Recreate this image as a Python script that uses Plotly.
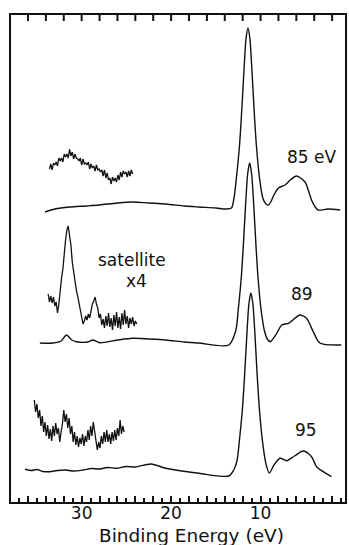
import plotly.graph_objects as go

# ---------------- data (binding energy in eV, intensity in arbitrary units) ----------------
# 85 eV spectrum (intensity above its own baseline)
e85 = [34.1, 33.0, 31.3, 29.5, 28.0, 26.0, 24.3, 22.5, 20.6, 18.5, 16.9, 15.0, 13.9, 13.26,
       12.97, 12.69, 12.35, 12.10, 11.82, 11.62, 11.41, 11.20, 11.00, 10.72, 10.47, 10.13,
       9.75, 9.4, 9.11, 8.8, 8.56, 8.0, 7.26, 6.67, 5.97, 5.03, 4.67, 4.30, 3.89, 3.56, 2.44, 1.1]
i85 = [-2, 1, 3, 4, 5, 7, 8, 7, 6, 4, 3, 2, 1, 2,
       12, 33, 65, 100, 145, 172, 182, 172, 145, 100, 65, 33,
       12, 6, 5, 9, 14, 22, 25, 30, 34, 28, 20, 10, 3, 0, 1, 0]

# 89 eV spectrum
e89 = [34.67, 33.2, 32.3, 31.7, 31.1, 30.6, 29.3, 28.74, 28.0, 26.0, 24.3, 22.5, 20.6, 18.5, 16.9, 13.56,
       12.78, 12.50, 12.16, 11.91, 11.63, 11.43, 11.22, 11.01, 10.81, 10.53, 10.28, 9.94,
       9.56, 9.25, 8.92, 8.19, 7.63, 6.89, 5.59, 4.86, 4.11, 3.37, 0.97]
i89 = [0, 0, 2, 8, 3, 1.3, 1, 3, 0.3, 3, 4.7, 4, 3, 1, 0, -2,
       12, 33, 65, 100, 145, 170, 180, 170, 145, 100, 65, 33,
       12, 4, 1.3, 9.7, 18, 19.7, 28, 24.7, 11.3, 0, -2]

# 95 eV spectrum
e95 = [36.33, 35.6, 35.0, 34.3, 33.56, 32.7, 31.8, 30.9, 29.86, 28.9, 28.0, 27.1, 26.14, 25.0, 24.0,
       22.26, 20.59, 18.8, 16.89, 13.56, 13.0,
       12.64, 12.36, 12.02, 11.77, 11.49, 11.29, 11.08, 10.87, 10.67, 10.39, 10.14, 9.80,
       9.42, 9.03, 8.5, 7.81, 7.08, 6.2, 5.22, 4.30, 3.74, 3.0, 2.08]
i95 = [3.7, 2.5, 3.5, 1.5, 1.3, 2.5, 3, 2, 3, 4.5, 4, 5.5, 4.7, 6.5, 6,
       9, 4.7, 2, -0.3, -3, 3,
       12, 33, 65, 100, 145, 170, 180, 170, 145, 100, 65, 33,
       10, 0, 8, 14.7, 12.3, 17, 22, 16.3, 6.3, 1.3, -3.7]

# baselines of the stacked spectra
offsets = {"85": 292, "89": 159, "95": 29}

# satellite regions, magnified x4 (absolute vertical position in chart units)
sat85_e = [33.6, 33.45, 33.3, 33.15, 33.0, 32.85, 32.7, 32.55, 32.4, 32.25, 32.1, 31.95, 31.8, 31.65,
           31.5, 31.35, 31.2, 31.05, 30.9, 30.75, 30.6, 30.45, 30.3, 30.15, 30.0, 29.85, 29.7, 29.55,
           29.4, 29.25, 29.1, 28.95, 28.8, 28.65, 28.5, 28.35, 28.2, 28.05, 27.9, 27.75, 27.6, 27.45,
           27.3, 27.15, 27.0, 26.85, 26.7, 26.55, 26.4, 26.25, 26.1, 25.95, 25.8, 25.65, 25.5, 25.35,
           25.2, 25.05, 24.9, 24.75, 24.6, 24.45, 24.3]
sat85_i = [333, 338, 332, 339, 337, 340, 336, 344, 341, 344, 340, 348, 345, 348,
           344, 353, 346, 350, 343, 348, 344, 343, 341, 344, 337, 343, 338, 339,
           337, 340, 333, 338, 334, 336, 331, 337, 332, 333, 330, 332, 326, 332,
           324, 329, 322, 324, 318, 325, 321, 324, 320, 327, 322, 330, 325, 331,
           328, 330, 325, 331, 326, 332, 328]

sat89_e = [33.75, 33.6, 33.45, 33.3, 33.15, 33.0, 32.85, 32.7, 32.55, 32.4, 32.25, 32.1, 31.95, 31.8,
           31.65, 31.5, 31.35, 31.2, 31.05, 30.9, 30.75, 30.6, 30.45, 30.3, 30.15, 30.0, 29.85, 29.7,
           29.55, 29.4, 29.25, 29.1, 28.95, 28.8, 28.65, 28.5, 28.35, 28.2, 28.05, 27.9, 27.75, 27.6,
           27.45, 27.3, 27.15, 27.0, 26.85, 26.7, 26.55, 26.4, 26.25, 26.1, 25.95, 25.8, 25.65, 25.5,
           25.35, 25.2, 25.05, 24.9, 24.75, 24.6, 24.45, 24.3, 24.15, 24.0, 23.85]
sat89_i = [208, 200, 206, 199, 205, 196, 200, 189, 198, 216, 224, 233, 250, 262,
           272, 276, 266, 257, 240, 229, 220, 212, 206, 199, 192, 185, 178, 181,
           186, 182, 188, 184, 193, 198, 201, 205, 198, 194, 184, 188, 177, 183,
           174, 186, 176, 189, 175, 184, 172, 187, 176, 190, 174, 185, 173, 189,
           177, 192, 178, 186, 174, 184, 178, 185, 176, 181, 178]

sat95_e = [35.3, 35.15, 35.0, 34.85, 34.7, 34.55, 34.4, 34.25, 34.1, 33.95, 33.8, 33.65, 33.5, 33.35,
           33.2, 33.05, 32.9, 32.75, 32.6, 32.45, 32.3, 32.15, 32.0, 31.85, 31.7, 31.55, 31.4, 31.25,
           31.1, 30.95, 30.8, 30.65, 30.5, 30.35, 30.2, 30.05, 29.9, 29.75, 29.6, 29.45, 29.3, 29.15,
           29.0, 28.85, 28.7, 28.55, 28.4, 28.25, 28.1, 27.95, 27.8, 27.65, 27.5, 27.35, 27.2, 27.05,
           26.9, 26.75, 26.6, 26.45, 26.3, 26.15, 26.0, 25.85, 25.7, 25.55, 25.4, 25.25]
sat95_i = [102, 90, 98, 84, 92, 76, 86, 70, 80, 66, 77, 63, 73, 61,
           76, 66, 79, 68, 74, 60, 70, 78, 92, 80, 88, 74, 84, 68,
           76, 60, 70, 57, 66, 55, 64, 58, 68, 56, 66, 60, 72, 62,
           76, 66, 80, 70, 62, 52, 60, 54, 66, 58, 70, 60, 72, 60,
           68, 58, 70, 61, 72, 62, 74, 66, 82, 68, 76, 70]

# labels
spec_labels = ["85 eV", "89", "95"]
spec_label_pos = [(4.33, 345), (5.33, 208), (4.89, 72)]
sat_label = ["satellite", "x4"]
sat_label_pos = [(24.33, 242), (23.89, 221)]
x_tick_vals = [30, 20, 10]
x_tick_text = ["30", "20", "10"]
x_title = "Binding Energy (eV)"
major_ticks = [2, 4, 6, 8, 10, 12, 14, 16, 18, 20, 22, 24, 26, 28, 30, 32, 34, 36]
minor_ticks = [1, 3, 5, 7, 9, 11, 13, 15, 17, 19, 21, 23, 25, 27, 29, 31, 33, 35, 37]

# ---------------- figure ----------------
INK = "#111111"
FONT = "DejaVu Sans"
XR = [37.9, 0.56]
YR = [0, 487]
TOP_TICK = 6   # length of the top-border tick marks, in y units (1 unit = 1 px here)

fig = go.Figure()

for e, i, key in [(e85, i85, "85"), (e89, i89, "89"), (e95, i95, "95")]:
    fig.add_trace(go.Scatter(
        x=e, y=[v + offsets[key] for v in i], mode="lines",
        line=dict(color=INK, width=1.4, shape="spline", smoothing=0.8),
        showlegend=False, hoverinfo="skip"))

for e, i in [(sat85_e, sat85_i), (sat89_e, sat89_i), (sat95_e, sat95_i)]:
    fig.add_trace(go.Scatter(
        x=e, y=i, mode="lines", line=dict(color=INK, width=1.3),
        showlegend=False, hoverinfo="skip"))

# tick marks hanging from the top border, at the major tick energies
fig.add_trace(go.Scatter(
    x=major_ticks, y=[YR[1]] * len(major_ticks), mode="markers",
    marker=dict(size=1, opacity=0),
    error_y=dict(type="data", symmetric=False, array=[0] * len(major_ticks),
                 arrayminus=[TOP_TICK] * len(major_ticks), width=0, thickness=2, color=INK),
    showlegend=False, hoverinfo="skip", cliponaxis=False))

for txt, (x, y) in zip(spec_labels, spec_label_pos):
    fig.add_annotation(x=x, y=y, text=txt, showarrow=False,
                       font=dict(family=FONT, size=17, color=INK))
for txt, (x, y) in zip(sat_label, sat_label_pos):
    fig.add_annotation(x=x, y=y, text=txt, showarrow=False,
                       font=dict(family=FONT, size=17, color=INK))

fig.add_annotation(xref="paper", yref="paper", x=0.539, y=-0.068, yanchor="middle",
                   xanchor="center", text=x_title,
                   showarrow=False, font=dict(family=FONT, size=18.5, color=INK))

fig.update_layout(
    width=349, height=545,
    margin=dict(l=11, r=2, t=15, b=43),
    paper_bgcolor="white", plot_bgcolor="white",
    xaxis=dict(range=XR, showgrid=False, zeroline=False,
               showline=True, linecolor=INK, linewidth=2, mirror=True,
               ticks="inside", ticklen=6, tickwidth=1.8, tickcolor=INK,
               tickmode="array", tickvals=major_ticks,
               ticktext=[x_tick_text[x_tick_vals.index(v)] if v in x_tick_vals else "" for v in major_ticks],
               ticklabelstandoff=-5,
               minor=dict(tickmode="array", tickvals=minor_ticks, ticks="inside",
                          ticklen=4, tickwidth=1.6, tickcolor=INK, showgrid=False),
               tickfont=dict(family=FONT, size=17, color=INK)),
    yaxis=dict(range=YR, showgrid=False, zeroline=False, showticklabels=False,
               showline=True, linecolor=INK, linewidth=2, mirror=True, ticks=""),
)

fig.write_html("out.html")
